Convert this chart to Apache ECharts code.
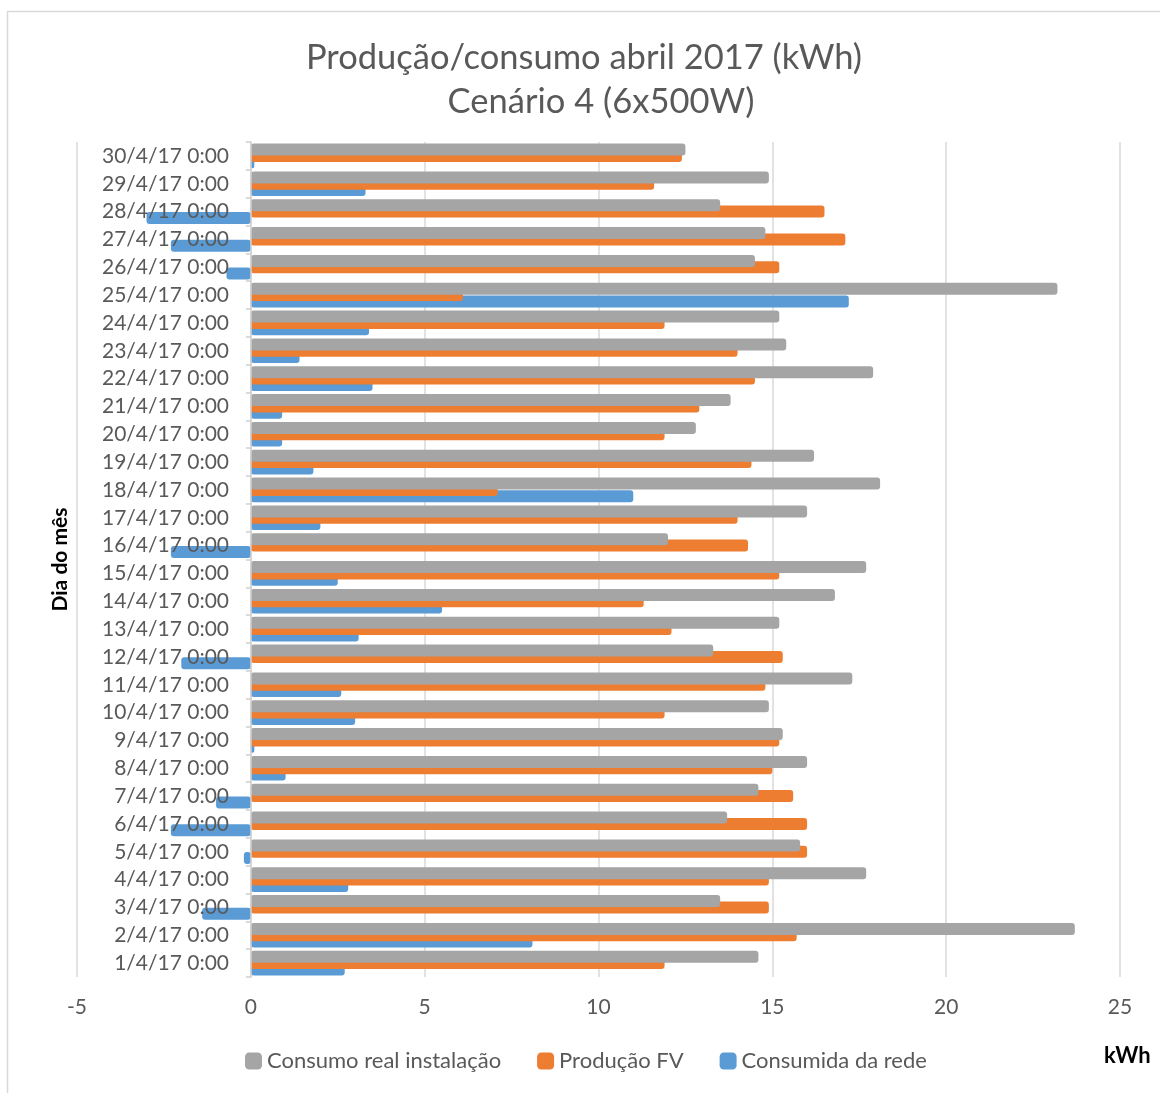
<!DOCTYPE html>
<html>
<head>
<meta charset="utf-8">
<script src="https://cdn.jsdelivr.net/npm/echarts@6/dist/echarts.min.js"></script>
<style>
html,body{margin:0;padding:0;background:#fff;}
#chart{width:1160px;height:1093px;}
</style>
</head>
<body>
<div id="chart"></div>
<script>
const categories = ['1/4/17 0:00','2/4/17 0:00','3/4/17 0:00','4/4/17 0:00','5/4/17 0:00','6/4/17 0:00','7/4/17 0:00','8/4/17 0:00','9/4/17 0:00','10/4/17 0:00','11/4/17 0:00','12/4/17 0:00','13/4/17 0:00','14/4/17 0:00','15/4/17 0:00','16/4/17 0:00','17/4/17 0:00','18/4/17 0:00','19/4/17 0:00','20/4/17 0:00','21/4/17 0:00','22/4/17 0:00','23/4/17 0:00','24/4/17 0:00','25/4/17 0:00','26/4/17 0:00','27/4/17 0:00','28/4/17 0:00','29/4/17 0:00','30/4/17 0:00'];
const consumoReal = [14.6,23.7,13.5,17.7,15.8,13.7,14.6,16.0,15.3,14.9,17.3,13.3,15.2,16.8,17.7,12.0,16.0,18.1,16.2,12.8,13.8,17.9,15.4,15.2,23.2,14.5,14.8,13.5,14.9,12.5];
const producaoFV = [11.9,15.7,14.9,14.9,16.0,16.0,15.6,15.0,15.2,11.9,14.8,15.3,12.1,11.3,15.2,14.3,14.0,7.1,14.4,11.9,12.9,14.5,14.0,11.9,6.1,15.2,17.1,16.5,11.6,12.4];
const consumidaRede = [2.7,8.1,-1.4,2.8,-0.2,-2.3,-1.0,1.0,0.1,3.0,2.6,-2.0,3.1,5.5,2.5,-2.3,2.0,11.0,1.8,0.9,0.9,3.5,1.4,3.4,17.2,-0.7,-2.3,-3.0,3.3,0.1];
const xTicks = {min: -5, max: 25, interval: 5};
const seriesNames = ['Consumo real instalação','Produção FV','Consumida da rede'];

const FONT = 'Lato';
const chart = echarts.init(document.getElementById('chart'), null, {renderer: 'canvas'});
const barCommon = {
  type: 'bar',
  barWidth: 12,
  barGap: '-47%',
  barCategoryGap: '0%'
};
chart.setOption({
  animation: false,
  textStyle: {fontFamily: FONT},
  color: ['#a5a5a5', '#ed7d31', '#5b9bd5'],
  graphic: [{
    type: 'rect', silent: true, z: -10,
    shape: {x: 7.5, y: 11.5, width: 1300, height: 1300},
    style: {fill: 'none', stroke: '#d9d9d9', lineWidth: 1.5}
  }],
  title: [{
    text: 'Produção/consumo abril 2017 (kWh)',
    left: 584, top: 40, textAlign: 'center', padding: 0,
    textStyle: {fontFamily: FONT, fontSize: 34.5, fontWeight: 'normal', color: '#595959'}
  }, {
    text: 'Cenário 4 (6x500W)',
    left: 601, top: 84, textAlign: 'center', padding: 0,
    textStyle: {fontFamily: FONT, fontSize: 34.5, fontWeight: 'normal', color: '#595959'}
  }],
  legend: {
    bottom: 16, left: 240,
    itemWidth: 17, itemHeight: 17, itemGap: 36,
    icon: 'roundRect',
    textStyle: {fontFamily: FONT, fontSize: 22, color: '#595959'},
    data: seriesNames
  },
  grid: {left: 77, right: 40, top: 142, bottom: 116, containLabel: false, outerBoundsMode: 'none'},
  xAxis: {
    type: 'value', min: xTicks.min, max: xTicks.max, interval: xTicks.interval,
    name: 'kWh', nameLocation: 'end', nameGap: -16,
    nameTextStyle: {fontFamily: FONT, fontSize: 22, fontWeight: 'bold', color: '#000', verticalAlign: 'top', padding: [68, 0, 0, 0]},
    axisLine: {show: false}, axisTick: {show: false},
    splitLine: {show: true, lineStyle: {color: '#d9d9d9', width: 1.5}},
    axisLabel: {fontFamily: FONT, fontSize: 21, color: '#595959', margin: 20}
  },
  yAxis: {
    type: 'category', data: categories, z: 10,
    name: 'Dia do mês', nameLocation: 'middle', nameGap: 6, nameMoveOverlap: false,
    nameTextStyle: {fontFamily: FONT, fontSize: 21, fontWeight: 'bold', color: '#000'},
    axisLine: {show: true, onZero: true, lineStyle: {color: '#d0d0d0', width: 1.5}},
    axisTick: {show: true, length: 5, lineStyle: {color: '#d0d0d0', width: 1.5}},
    axisLabel: {fontFamily: FONT, fontSize: 21, color: '#595959', margin: -152, interval: 0},
    splitLine: {show: false}
  },
  series: [
    Object.assign({}, barCommon, {name: seriesNames[0], data: consumoReal, z: 5, itemStyle: {borderRadius: 3}}),
    Object.assign({}, barCommon, {name: seriesNames[1], data: producaoFV, z: 4, itemStyle: {borderRadius: 3}}),
    Object.assign({}, barCommon, {name: seriesNames[2], data: consumidaRede, z: 3, itemStyle: {borderRadius: 3}})
  ]
});
</script>
</body>
</html>
